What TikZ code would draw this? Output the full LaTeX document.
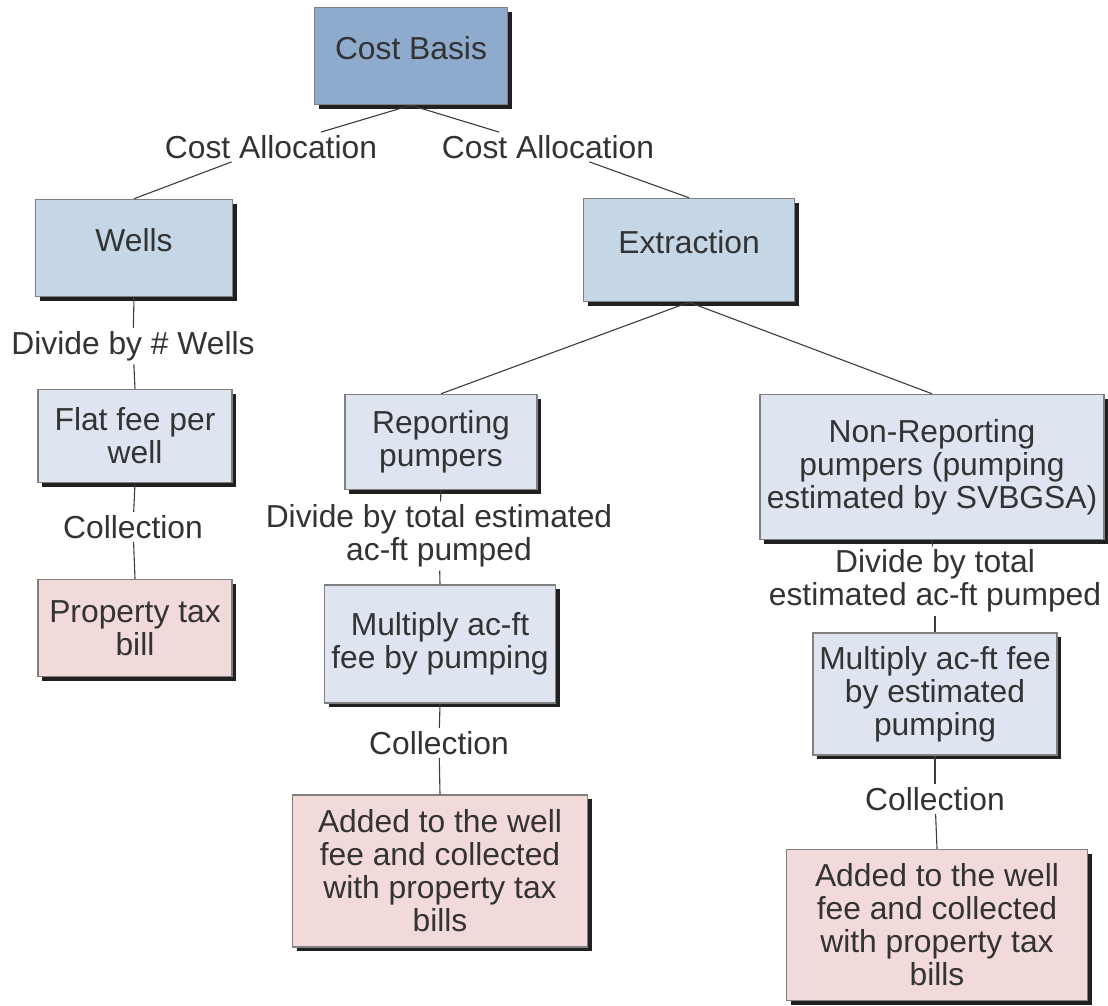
\documentclass[tikz,border=0pt]{standalone}
\usepackage{fontspec}
\setmainfont{Liberation Sans}
\usetikzlibrary{shadows}
\definecolor{txt}{RGB}{51,51,51}
\definecolor{cbfill}{RGB}{142,170,205}
\definecolor{midfill}{RGB}{197,214,230}
\definecolor{lightfill}{RGB}{222,229,240}
\definecolor{pinkfill}{RGB}{242,218,219}
\definecolor{boxline}{RGB}{128,128,128}
\definecolor{shadowc}{RGB}{32,32,32}
\definecolor{linkc}{RGB}{60,60,60}
\begin{document}
\begin{tikzpicture}[x=1pt,y=-1pt,
  every node/.style={text=txt,font=\fontsize{31.8}{33}\selectfont},
  cbox/.style={draw=boxline,line width=1.5pt,align=center,inner sep=2pt,
    drop shadow={shadow xshift=4pt,shadow yshift=-4pt,fill=shadowc,opacity=1}},
  raised/.style={text depth=17pt},
  lbl/.style={align=center,inner sep=3pt},
  link/.style={draw=linkc,line width=1.1pt}]
\useasboundingbox (0,0) rectangle (1108,1005);
% boxes
\node[cbox,raised,fill=cbfill,minimum width=193pt,minimum height=97pt] (cb) at (411,56) {Cost Basis};
\node[cbox,raised,fill=midfill,minimum width=197pt,minimum height=97pt] (wells) at (134,248) {Wells};
\node[cbox,raised,fill=midfill,minimum width=211pt,minimum height=103pt] (extr) at (689,250) {Extraction};
\node[cbox,fill=lightfill,minimum width=194pt,minimum height=93pt] (flat) at (135,436) {Flat fee per\\well};
\node[cbox,fill=pinkfill,minimum width=194pt,minimum height=97pt] (prop) at (135,628) {Property tax\\bill};
\node[cbox,fill=lightfill,minimum width=192pt,minimum height=95pt] (rep) at (441,442) {Reporting\\pumpers};
\node[cbox,fill=lightfill,minimum width=231pt,minimum height=118pt] (mult1) at (440,644) {Multiply ac-ft\\fee by pumping};
\node[cbox,fill=pinkfill,minimum width=295pt,minimum height=152pt] (add1) at (440,871) {Added to the well\\fee and collected\\with property tax\\bills};
\node[cbox,fill=lightfill,minimum width=344pt,minimum height=145pt] (nonrep) at (932,467) {Non-Reporting\\pumpers (pumping\\estimated by SVBGSA)};
\node[cbox,fill=lightfill,minimum width=244pt,minimum height=122pt] (mult2) at (935,694) {Multiply ac-ft fee\\by estimated\\pumping};
\node[cbox,fill=pinkfill,minimum width=301pt,minimum height=151pt] (add2) at (937,925) {Added to the well\\fee and collected\\with property tax\\bills};
% labels
\node[lbl] (la) at (271,147) {Cost Allocation};
\node[lbl] (lb) at (548,147) {Cost Allocation};
\node[lbl] (lc) at (133,346) {Divide by \# Wells};
\node[lbl] (ld) at (133,527) {Collection};
\node[lbl] (le) at (439,536) {Divide by total estimated\\ac-ft pumped};
\node[lbl] (lf) at (439,743) {Collection};
\node[lbl] (lg) at (935,581) {Divide by total\\estimated ac-ft pumped};
\node[lbl] (lh) at (935,799) {Collection};
% connectors
\path[link] (cb.south) -- (la);
\path[link] (la) -- (wells.north);
\path[link] (cb.south) -- (lb);
\path[link] (lb) -- (extr.north);
\path[link] (wells.south) -- (lc);
\path[link] (lc) -- (flat.north);
\path[link] (flat.south) -- (ld);
\path[link] (ld) -- (prop.north);
\path[link] (extr.south) -- (rep.north);
\path[link] (extr.south) -- (nonrep.north);
\path[link] (rep.south) -- (le);
\path[link] (le) -- (mult1.north);
\path[link] (mult1.south) -- (lf);
\path[link] (lf) -- (add1.north);
\path[link] (nonrep.south) -- (lg);
\path[link] (lg) -- (mult2.north);
\path[link] (mult2.south) -- (lh);
\path[link] (lh) -- (add2.north);
\end{tikzpicture}
\end{document}
